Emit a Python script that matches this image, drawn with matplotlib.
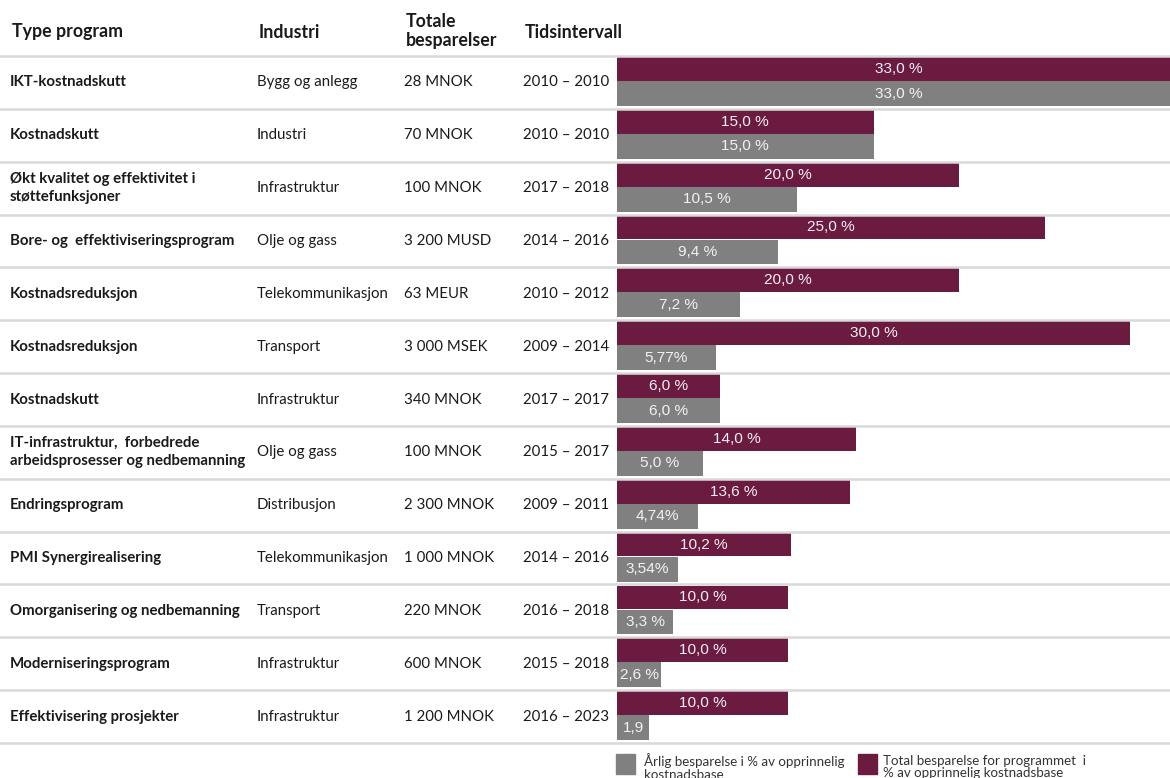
import matplotlib
matplotlib.use("Agg")
import matplotlib.pyplot as plt
from matplotlib.transforms import blended_transform_factory
from matplotlib.lines import Line2D
from matplotlib.patches import Rectangle

# --- data -------------------------------------------------------------
programs = [
    "IKT-kostnadskutt",
    "Kostnadskutt",
    "Økt kvalitet og effektivitet i\nstøttefunksjoner",
    "Bore- og  effektiviseringsprogram",
    "Kostnadsreduksjon",
    "Kostnadsreduksjon",
    "Kostnadskutt",
    "IT-infrastruktur,  forbedrede\narbeidsprosesser og nedbemanning",
    "Endringsprogram",
    "PMI Synergirealisering",
    "Omorganisering og nedbemanning",
    "Moderniseringsprogram",
    "Effektivisering prosjekter",
]
industries = [
    "Bygg og anlegg", "Industri", "Infrastruktur", "Olje og gass",
    "Telekommunikasjon", "Transport", "Infrastruktur", "Olje og gass",
    "Distribusjon", "Telekommunikasjon", "Transport", "Infrastruktur",
    "Infrastruktur",
]
savings = [
    "28 MNOK", "70 MNOK", "100 MNOK", "3 200 MUSD", "63 MEUR",
    "3 000 MSEK", "340 MNOK", "100 MNOK", "2 300 MNOK", "1 000 MNOK",
    "220 MNOK", "600 MNOK", "1 200 MNOK",
]
periods = [
    "2010 – 2010", "2010 – 2010", "2017 – 2018", "2014 – 2016",
    "2010 – 2012", "2009 – 2014", "2017 – 2017", "2015 – 2017",
    "2009 – 2011", "2014 – 2016", "2016 – 2018", "2015 – 2018",
    "2016 – 2023",
]
total_pct = [33.0, 15.0, 20.0, 25.0, 20.0, 30.0, 6.0, 14.0, 13.6, 10.2,
             10.0, 10.0, 10.0]
total_labels = ["33,0 %", "15,0 %", "20,0 %", "25,0 %", "20,0 %", "30,0 %",
                "6,0 %", "14,0 %", "13,6 %", "10,2 %", "10,0 %", "10,0 %",
                "10,0 %"]
annual_pct = [33.0, 15.0, 10.5, 9.4, 7.2, 5.77, 6.0, 5.0, 4.74, 3.54,
              3.3, 2.6, 1.9]
annual_labels = ["33,0 %", "15,0 %", "10,5 %", "9,4 %", "7,2 %", "5,77%",
                 "6,0 %", "5,0 %", "4,74%", "3,54%", "3,3 %", "2,6 %",
                 "1,9"]
headers = ["Type program", "Industri", "Totale\nbesparelser", "Tidsintervall"]
legend_labels = ["Årlig besparelse i % av opprinnelig\nkostnadsbase",
                 "Total besparelse for programmet  i\n% av opprinnelig kostnadsbase"]

# --- style ------------------------------------------------------------
W, H = 1170, 778
PURPLE = "#6b1a40"
GREY = "#808080"
RULE = "#d9d9d9"
INK = "#1a1a1a"
TABLE_FONT = "Lato"
BAR_FONT = "Liberation Sans"

fig = plt.figure(figsize=(W / 100, H / 100), dpi=100)
fig.patch.set_facecolor("white")

def fx(px):
    return px / W

def fy(px):
    return 1 - px / H

top_px, bottom_px, left_px = 56, 743, 617
ax = fig.add_axes([fx(left_px), fy(bottom_px), 1 - fx(left_px),
                   (bottom_px - top_px) / H])
n = len(programs)
ax.set_ylim(n, 0)
ax.set_xlim(0, (W - left_px) / 17.1)
ax.axis("off")

rows = list(range(n))
ax.barh([r + 0.245 for r in rows], total_pct, height=0.45, left=0,
        color=PURPLE, align="center", zorder=3)
ax.barh([r + 0.71 for r in rows], annual_pct, height=0.47, left=0,
        color=GREY, align="center", zorder=3)

for r in rows:
    ax.text(total_pct[r] / 2, r + 0.245, total_labels[r], ha="center",
            va="center", color="#f6eef2", fontsize=11.1, family=BAR_FONT,
            zorder=4, clip_on=False)
    ax.text(annual_pct[r] / 2, r + 0.71, annual_labels[r], ha="center",
            va="center", color="#f2f2f2", fontsize=11.1, family=BAR_FONT,
            zorder=4, clip_on=False)

# row rules across the full width
tr = blended_transform_factory(fig.transFigure, ax.transData)
for r in range(n + 1):
    fig.add_artist(Line2D([0, 1], [r, r], transform=tr, color=RULE,
                          lw=1.8, zorder=1))

# table columns
col_x = [10, 257, 404, 523]
for r in rows:
    yc = r + 0.5
    fig.text(fx(col_x[0]), yc, programs[r], transform=tr, ha="left",
             va="center", fontsize=10.8, fontweight="bold", family=TABLE_FONT,
             color=INK, linespacing=1.38)
    fig.text(fx(col_x[1]), yc, industries[r], transform=tr, ha="left",
             va="center", fontsize=10.8, family=TABLE_FONT, color=INK)
    fig.text(fx(col_x[2]), yc, savings[r], transform=tr, ha="left",
             va="center", fontsize=10.8, family=TABLE_FONT, color=INK)
    fig.text(fx(col_x[3]), yc, periods[r], transform=tr, ha="left",
             va="center", fontsize=10.8, family=TABLE_FONT, color=INK)

# header
header_y = [32, 32, 31, 32]
for x, y, h in zip(col_x, header_y, headers):
    fig.text(fx(x + 2), fy(y), h, ha="left", va="center", fontsize=12.8,
             fontweight="bold", family=TABLE_FONT, color=INK,
             linespacing=1.2)

# legend
for (sx, tx), colour, label in zip([(616, 644), (858, 883)], [GREY, PURPLE],
                                   legend_labels):
    fig.add_artist(Rectangle((fx(sx), fy(774)), fx(19), 20 / H,
                             transform=fig.transFigure, color=colour))
    fig.text(fx(tx), fy(767), label, ha="left", va="center", fontsize=9.6,
             family=TABLE_FONT, color="#333333", linespacing=1.02)

fig.savefig("out.png", dpi=100)
